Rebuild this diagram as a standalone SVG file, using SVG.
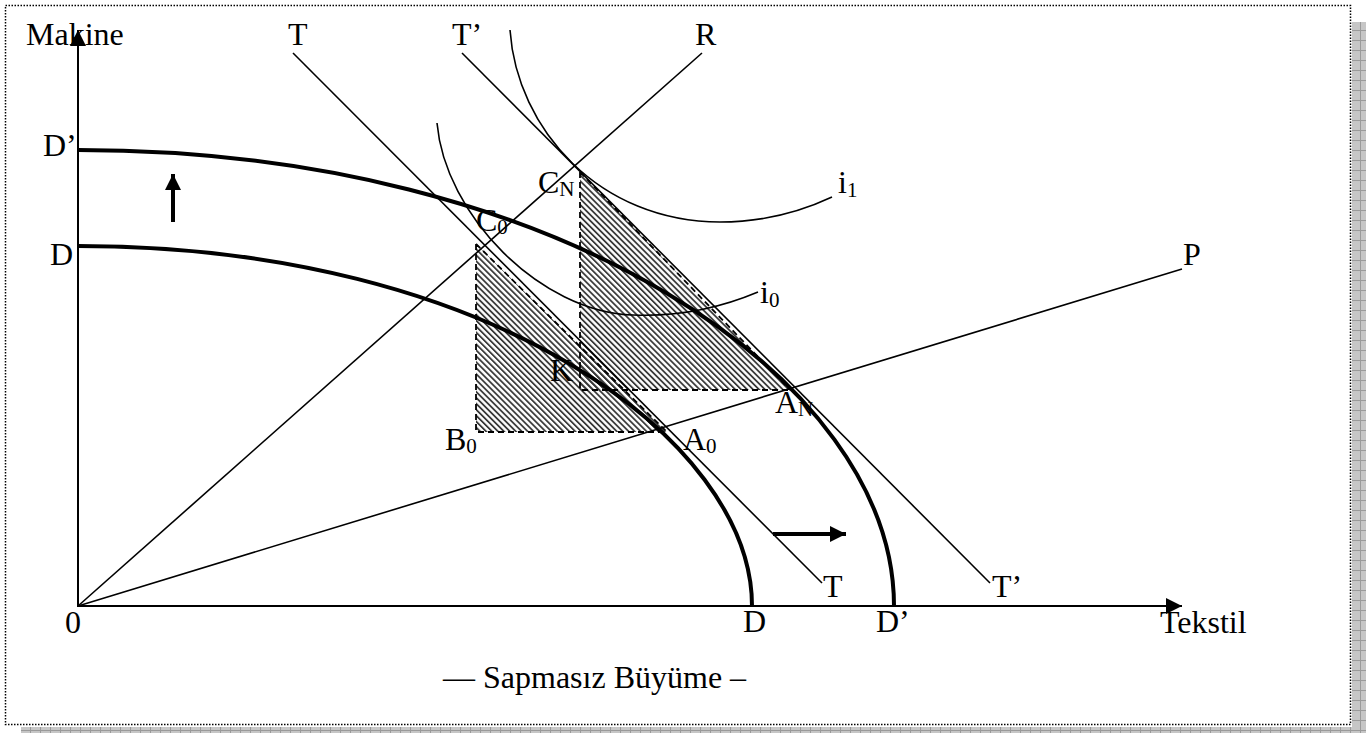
<svg xmlns="http://www.w3.org/2000/svg" width="1372" height="733" viewBox="0 0 1372 733">
<style>
.t{font-family:"Liberation Serif","Times New Roman",serif;font-size:32px;fill:#000}
.s{font-size:21px}
.thin{fill:none;stroke:#000;stroke-width:1.6}
.thick{fill:none;stroke:#000;stroke-width:4}
.dash{fill:none;stroke:#000;stroke-width:1.8;stroke-dasharray:6 4}
.axis{fill:none;stroke:#000;stroke-width:2}
</style>
<defs>
<pattern id="hatch" width="4.2" height="4.2" patternUnits="userSpaceOnUse" patternTransform="rotate(-45)">
<rect x="0" y="0" width="1.8" height="4.2" fill="#3a3a3a"/>
</pattern>
<pattern id="shadow" width="10" height="10" patternUnits="userSpaceOnUse">
<rect width="10" height="10" fill="#c6c6c6"/>
<path d="M0 0.5H10M0.5 0V10" stroke="#9a9a9a" stroke-width="1"/>
</pattern>
<marker id="ah" viewBox="0 0 16 16" refX="16" refY="8" markerWidth="16" markerHeight="16" markerUnits="userSpaceOnUse" orient="auto">
<path d="M0 0L16 8L0 16Z" fill="#000"/>
</marker>
</defs>
<rect width="1372" height="733" fill="#fff"/>
<g id="frame">
<rect x="1352" y="22" width="14" height="711" fill="url(#shadow)"/>
<rect x="21" y="727" width="1345" height="6" fill="url(#shadow)"/>
<rect x="5.5" y="5.5" width="1345" height="719" fill="none" stroke="#000" stroke-width="1.5" stroke-dasharray="1.5 1.5"/>
</g>
<g id="hatched-areas">
<polygon points="476,244 476,432 667,432" fill="url(#hatch)"/>
<polygon points="580,172 580,390 790,390" fill="url(#hatch)"/>
<path class="dash" d="M476 244V432H667M476 244L667 432"/>
<path class="dash" d="M580 172V390H790M580 172L790 390"/>
</g>
<g id="axes">
<line class="axis" x1="78" y1="607" x2="78" y2="30" marker-end="url(#ah)"/>
<line class="axis" x1="77" y1="606" x2="1182" y2="606" marker-end="url(#ah)"/>
</g>
<g id="connectors">
<line class="thin" x1="293" y1="53" x2="822" y2="583"/>
<line class="thin" x1="462" y1="53" x2="990" y2="583"/>
<line class="thin" x1="78" y1="606" x2="702" y2="53"/>
<line class="thin" x1="78" y1="606" x2="1182" y2="269"/>
<path class="thin" d="M437 123C445 215 540 312 633 315C680 317 720 308 758 292"/>
<path class="thin" d="M510 30C517 130 600 222 720 222C760 222 800 212 832 197"/>
<path class="thick" d="M78 246C490 246 752 440 752 606"/>
<path class="thick" d="M78 150C560 150 894 380 894 606"/>
<line x1="173" y1="222" x2="173" y2="174" stroke="#000" stroke-width="4" marker-end="url(#ah)"/>
<line x1="773" y1="534" x2="846" y2="534" stroke="#000" stroke-width="4" marker-end="url(#ah)"/>
</g>
<g id="labels">
<text class="t" x="26" y="45">Makine</text>
<text class="t" x="288" y="45">T</text>
<text class="t" x="452" y="45">T’</text>
<text class="t" x="695" y="45">R</text>
<text class="t" x="43" y="156">D’</text>
<text class="t" x="50" y="265">D</text>
<text class="t" x="538" y="193">C<tspan class="s" dy="3">N</tspan></text>
<text class="t" x="476" y="231">C<tspan class="s" dy="3">0</tspan></text>
<text class="t" x="838" y="193">i<tspan class="s" dy="4">1</tspan></text>
<text class="t" x="760" y="303">i<tspan class="s" dy="4">0</tspan></text>
<text class="t" x="1183" y="265">P</text>
<text class="t" x="550" y="381">K</text>
<text class="t" x="445" y="450">B<tspan class="s" dy="3">0</tspan></text>
<text class="t" x="683" y="450">A<tspan class="s" dy="3">0</tspan></text>
<text class="t" x="775" y="413">A<tspan class="s" dy="3">N</tspan></text>
<text class="t" x="823" y="597">T</text>
<text class="t" x="992" y="597">T’</text>
<text class="t" x="65" y="633">0</text>
<text class="t" x="743" y="632">D</text>
<text class="t" x="876" y="632">D’</text>
<text class="t" x="1160" y="633">Tekstil</text>
<text class="t" x="443" y="688">— Sapmasız Büyüme –</text>
</g>
</svg>
